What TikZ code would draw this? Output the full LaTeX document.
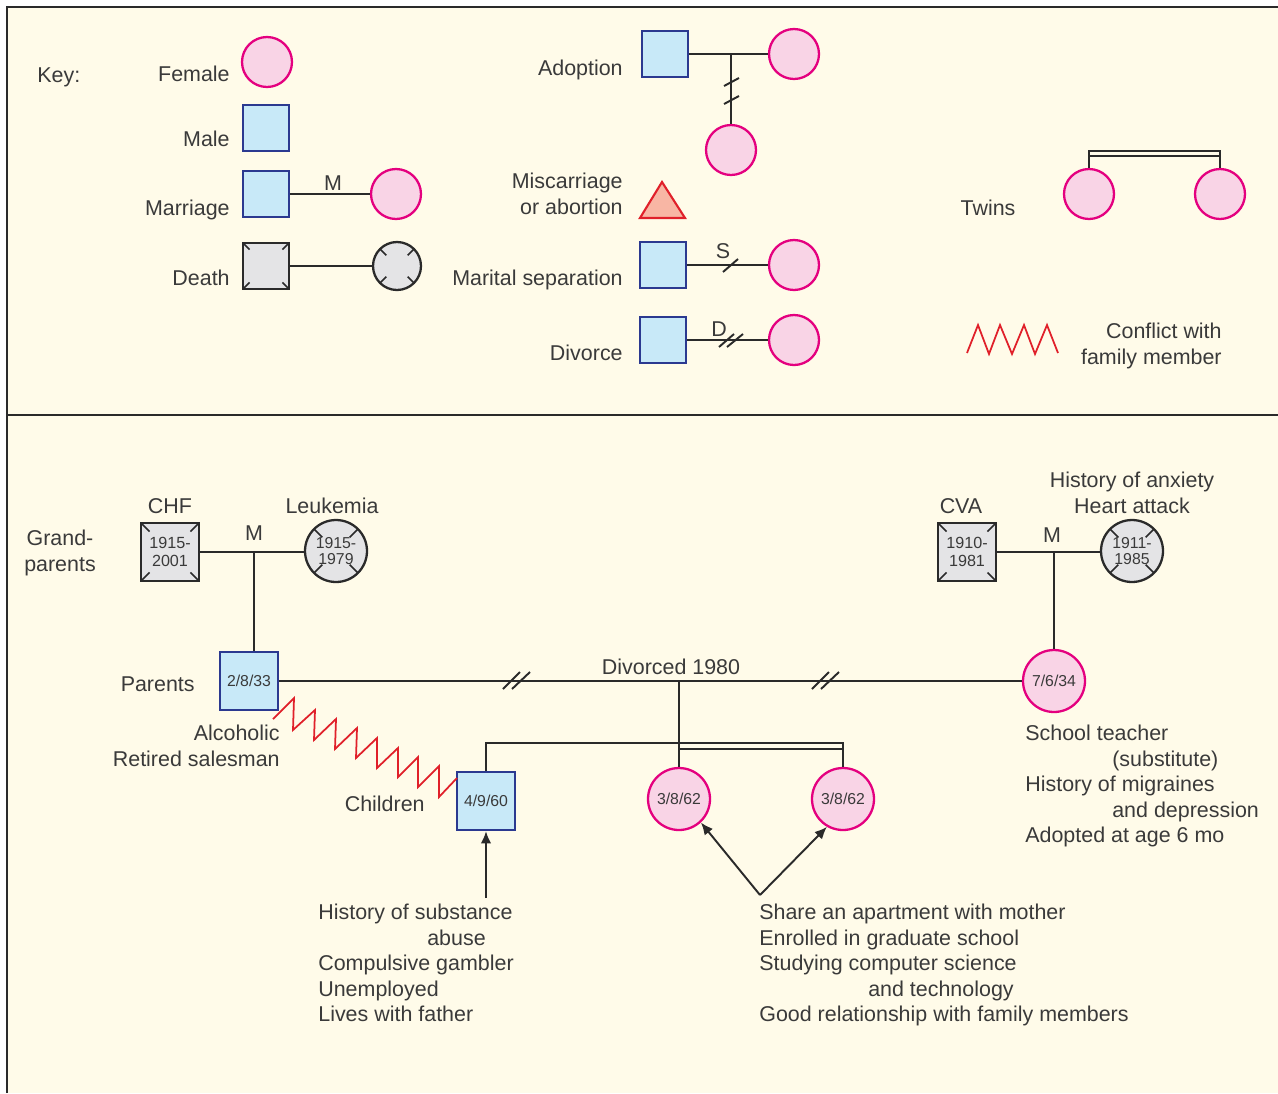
\documentclass[tikz,border=0pt]{standalone}
\usepackage{fontspec}
\setmainfont{Liberation Sans}
\usetikzlibrary{calc,arrows.meta}

\definecolor{bg}{HTML}{FFFBE9}
\definecolor{femfill}{HTML}{F9D4E6}
\definecolor{femline}{HTML}{E4007F}
\definecolor{malefill}{HTML}{C8E9F8}
\definecolor{maleline}{HTML}{2B3990}
\definecolor{deadfill}{HTML}{E4E4E6}
\definecolor{ink}{HTML}{2A2A2A}
\definecolor{txt}{HTML}{3A3A3A}
\definecolor{conf}{HTML}{E0202A}
\definecolor{trifill}{HTML}{F8B6A4}

\tikzset{
  lbl/.style={inner sep=0pt, text=txt},
  fem/.style={circle, draw=femline, fill=femfill, line width=1.3pt, minimum size=1cm, inner sep=0pt, text=txt},
  fembig/.style={fem, minimum size=1.24cm},
  mal/.style={rectangle, draw=maleline, fill=malefill, line width=1.3pt, minimum size=0.92cm, inner sep=0pt, text=txt},
  malbig/.style={mal, minimum size=1.16cm},
  deadsq/.style={rectangle, draw=ink, fill=deadfill, line width=1.3pt, minimum size=0.92cm, inner sep=0pt, text=txt, align=center},
  deadci/.style={circle, draw=ink, fill=deadfill, line width=1.3pt, minimum size=0.96cm, inner sep=0pt, text=txt, align=center},
  small/.style={font=\fontsize{9}{10}\selectfont},
  link/.style={draw=ink, line width=1.1pt},
  slash/.style={draw=ink, line width=1.1pt},
  conflict/.style={draw=conf, line width=1pt, line join=miter},
  pointer/.style={draw=ink, line width=1.1pt, -{Latex[length=7pt,width=6pt]}},
}

% death marks: short diagonal ticks in the corners of a square, on the rim of a circle
\newcommand{\sqticks}[1]{%
  \foreach \c in {north west,north east,south west,south east}
    \draw[ink, line width=0.9pt] ($(#1.\c)!0.06!(#1.center)$) -- ($(#1.\c)!0.32!(#1.center)$);}
\newcommand{\citicks}[1]{%
  \foreach \a in {45,135,225,315}
    \draw[ink, line width=0.9pt] ($(#1.center)!0.6!(#1.\a)$) -- ($(#1.center)!0.97!(#1.\a)$);}

\begin{document}
\begin{tikzpicture}[x=0.02cm, y=-0.02cm, font=\fontsize{12.2}{14.5}\selectfont]
\useasboundingbox (0,0) rectangle (1278,1093);
\fill[white] (0,0) rectangle (1278,1093);
\fill[bg] (7,7) rectangle (1278,1093);
\draw[ink, line width=1.1pt] (7,1093) -- (7,7) -- (1278,7);
\draw[ink, line width=1.1pt] (7,415) -- (1278,415);

% ---------------- key ----------------
\node[lbl, anchor=base west] (keylbl) at (37,82) {Key:};

\node[lbl, anchor=base east] (tfem) at (230,81) {Female};
\node[fem] (kfem) at (267,62) {};

\node[lbl, anchor=base east] (tmale) at (230,146) {Male};
\node[mal] (kmale) at (266,128) {};

\node[lbl, anchor=base east] (tmar) at (230,215) {Marriage};
\node[mal] (mh) at (266,194) {};
\node[fem] (mw) at (396,194) {};
\draw[link] (mh.east) -- (mw.west);
\node[lbl] (mlbl) at (333,183) {M};

\node[lbl, anchor=base east] (tdeath) at (230,285) {Death};
\node[deadsq] (ds) at (266,266) {};
\node[deadci] (dc) at (397,266) {};
\draw[link] (ds.east) -- (dc.west);
\sqticks{ds}
\citicks{dc}

% adoption
\node[lbl, anchor=base east] (tadopt) at (623,75) {Adoption};
\node[mal] (am) at (665,54) {};
\node[fem] (aw) at (794,54) {};
\node[fem] (ac) at (731,150) {};
\coordinate (adj) at (731,54);
\draw[link] (am.east) -- (aw.west);
\draw[link] (adj) -- (ac.north);
\draw[slash] (724,86) -- (739,78);
\draw[slash] (724,104) -- (739,96);

% miscarriage
\node[lbl, anchor=north east, align=right] (tmisc) at (623,173) {Miscarriage\\or abortion};
\draw[draw=conf, fill=trifill, line width=1.2pt, line join=miter] (640,218) -- (662,182) -- (685,218) -- cycle;

% marital separation
\node[lbl, anchor=base east] (tsep) at (623,285) {Marital separation};
\node[mal] (sm) at (663,265) {};
\node[fem] (sw) at (794,265) {};
\draw[link] (sm.east) -- (sw.west);
\draw[slash] (723,272) -- (738,259);
\node[lbl] (slbl) at (723,251) {S};

% divorce
\node[lbl, anchor=base east] (tdiv) at (623,360) {Divorce};
\node[mal] (dm) at (663,340) {};
\node[fem] (dw) at (794,340) {};
\draw[link] (dm.east) -- (dw.west);
\draw[slash] (719,347) -- (734,334);
\draw[slash] (727,347) -- (743,334);
\node[lbl] (dlbl) at (719,329) {D};

% twins
\node[lbl, anchor=base] (ttwins) at (988,215) {Twins};
\node[fem] (tk1) at (1089,194) {};
\node[fem] (tk2) at (1220,194) {};
\draw[link] (tk1.north) -- (tk1.north |- 0,151) -- (tk2.north |- 0,151) -- (tk2.north);
\draw[link] (tk1.north |- 0,156) -- (tk2.north |- 0,156);

% conflict
\draw[conflict] (967,353) -- (978,325) -- (989,354) -- (1000,325) -- (1012,354)
  -- (1024,325) -- (1035,354) -- (1047,325) -- (1058,353);
\node[lbl, anchor=north east, align=right] (tconf) at (1222,323) {Conflict with\\family member};

% ---------------- family ----------------
\node[lbl, align=center] (tgrand) at (60,553) {Grand-\\parents};

% paternal grandparents
\node[deadsq, minimum size=1.16cm, font=\fontsize{9.2}{10.4}\selectfont] (gf1) at (170,552) {1915-\\2001};
\node[deadci, minimum size=1.24cm, font=\fontsize{9}{8.6}\selectfont] (gm1) at (336,551) {1915-\\1979};
\sqticks{gf1}
\citicks{gm1}
\node[lbl, anchor=base] (tchf) at (170,513) {CHF};
\node[lbl, anchor=base] (tleuk) at (332,513) {Leukemia};
\draw[link] (gf1.east) -- (gf1.east -| gm1.west);
\node[lbl] (m1lbl) at (254,533) {M};
\coordinate (m1) at (254,552);

% maternal grandparents
\node[deadsq, minimum size=1.16cm, font=\fontsize{9.2}{10.4}\selectfont] (gf2) at (967,552) {1910-\\1981};
\node[deadci, minimum size=1.24cm, font=\fontsize{9}{8.6}\selectfont] (gm2) at (1132,551) {1911-\\1985};
\sqticks{gf2}
\citicks{gm2}
\node[lbl, anchor=base] (tcva) at (961,513) {CVA};
\node[lbl, anchor=north, align=center] (tanx) at (1132,472) {History of anxiety\\Heart attack};
\draw[link] (gf2.east) -- (gf2.east -| gm2.west);
\node[lbl] (m2lbl) at (1052,535) {M};

% parents
\node[malbig, small] (par) at (249,681) {2/8/33};
\node[fembig, small] (mom) at (1054,681) {7/6/34};
\draw[link] (m1) -- (m1 |- par.north);
\draw[link] (mom.north) -- (mom.north |- gf2.east);
\draw[link] (par.east) -- (mom.west);
\draw[slash] (503,689) -- (520,672);
\draw[slash] (512,689) -- (530,672);
\draw[slash] (812,689) -- (829,672);
\draw[slash] (821,689) -- (839,672);
\node[lbl, anchor=base] (tdivorced) at (671,674) {Divorced 1980};
\node[lbl, anchor=base east] (tparents) at (195,691) {Parents};
\node[lbl, anchor=north east, align=right] (tfather) at (280,725) {Alcoholic\\Retired salesman};
\node[lbl, anchor=north west, align=left] (tmother) at (1025,725)
  {School teacher\\\hspace*{49.5pt}(substitute)\\History of migraines\\\hspace*{49.5pt}and depression\\Adopted at age 6 mo};

% children
\node[malbig, small] (son) at (486,801) {4/9/60};
\node[fembig, small] (tw1) at (679,799) {3/8/62};
\node[fembig, small] (tw2) at (843,799) {3/8/62};
\coordinate (kids) at (679,681);
\coordinate (sib) at (486,743);
\draw[link] (kids) -- (tw1.north);
\draw[link] (son.north) -- (sib) -- (tw2.north |- sib) -- (tw2.north);
\draw[link] (tw1.north |- 0,749) -- (tw2.north |- 0,749);
\node[lbl, anchor=base east] (tchildren) at (425,811) {Children};

% conflict between father and son
\coordinate (zA) at (273,719);
\coordinate (zB) at (457,778);
\draw[conflict] (zA) -- (294,698) -- (293,730) -- (315,710) -- (314,740) -- (336,719) -- (335,749)
  -- (357,728) -- (356,758) -- (377,738) -- (377,768) -- (398,748) -- (398,777) -- (418,757)
  -- (418,787) -- (439,766) -- (439,797) -- (zB);

% notes with pointers
\coordinate (sonarr) at (486,898);
\draw[pointer] (sonarr) -- (son.south);
\node[lbl, anchor=north west, align=left] (tsonnote) at (318,904)
  {History of substance\\\hspace*{62pt}abuse\\Compulsive gambler\\Unemployed\\Lives with father};

\coordinate (twarr) at (760,895);
\draw[pointer] (twarr) -- (tw1.-47);
\draw[pointer] (twarr) -- (tw2.-120);
\node[lbl, anchor=north west, align=left] (ttwnote) at (759,904)
  {Share an apartment with mother\\Enrolled in graduate school\\Studying computer science\\\hspace*{62pt}and technology\\Good relationship with family members};
\end{tikzpicture}
\end{document}
